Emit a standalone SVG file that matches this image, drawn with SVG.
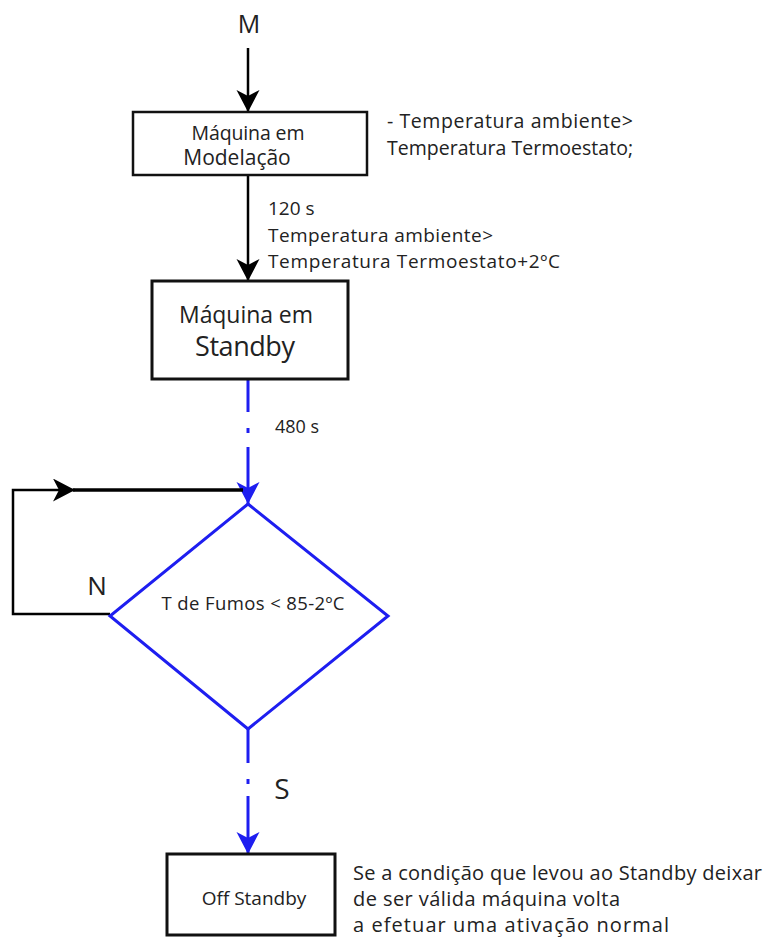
<svg xmlns="http://www.w3.org/2000/svg" width="765" height="939" viewBox="0 0 765 939">
<style>
.t{font-family:"Open Sans","Noto Sans","Liberation Sans",sans-serif;fill:#222;}
.box{fill:#fff;stroke:#111;}
.blk{stroke:#000;fill:none;}
.blu{stroke:#1e1ef0;fill:none;stroke-width:3;}
</style>
<defs>
<marker id="ab" markerUnits="userSpaceOnUse" markerWidth="24" markerHeight="24" refX="22" refY="11.5" orient="auto">
<path d="M0,0 L22,11.5 L0,23 L6,11.5 z" fill="#000"/>
</marker>
<marker id="au" markerUnits="userSpaceOnUse" markerWidth="24" markerHeight="24" refX="22" refY="11.5" orient="auto">
<path d="M0,0 L22,11.5 L0,23 L6,11.5 z" fill="#1e1ef0"/>
</marker>
</defs>
<rect width="765" height="939" fill="#fff"/>

<g id="connectors">
<line class="blk" x1="248" y1="48" x2="248" y2="112" stroke-width="2.5" marker-end="url(#ab)"/>
<line class="blk" x1="248" y1="175" x2="248" y2="281" stroke-width="2.5" marker-end="url(#ab)"/>
<line class="blu" x1="248" y1="379" x2="248" y2="412"/>
<line class="blu" x1="248" y1="428" x2="248" y2="433"/>
<line class="blu" x1="248" y1="447" x2="248" y2="504" marker-end="url(#au)"/>
<path class="blk" d="M110,614 H13 V490 H75" stroke-width="2.5" marker-end="url(#ab)"/>
<line class="blk" x1="73" y1="490" x2="243" y2="490" stroke-width="3.5"/>
<line class="blu" x1="248" y1="729" x2="248" y2="763"/>
<line class="blu" x1="248" y1="779" x2="248" y2="784"/>
<line class="blu" x1="248" y1="796" x2="248" y2="854" marker-end="url(#au)"/>
<text class="t" x="275" y="433" font-size="18">480 s</text>
<text class="t" x="97" y="595" font-size="26" text-anchor="middle">N</text>
<text class="t" x="282" y="799" font-size="28" text-anchor="middle">S</text>
<text class="t" x="268" y="215" font-size="19">120 s</text>
<text class="t" x="268" y="242" font-size="19" textLength="225">Temperatura ambiente&gt;</text>
<text class="t" x="268" y="268" font-size="19" textLength="292">Temperatura Termoestato+2ºC</text>
</g>

<g id="start">
<text class="t" x="249" y="33" font-size="25" text-anchor="middle">M</text>
</g>

<g id="modelacao">
<rect class="box" x="133" y="112" width="234" height="63" stroke-width="2.5"/>
<text class="t" x="248" y="140" font-size="19.5" text-anchor="middle" textLength="113">Máquina em</text>
<text class="t" x="237" y="165" font-size="21" text-anchor="middle">Modelação</text>
</g>

<g id="note1">
<text class="t" x="387" y="128" font-size="19.5" textLength="246">- Temperatura ambiente&gt;</text>
<text class="t" x="387" y="155" font-size="19.5" textLength="246">Temperatura Termoestato;</text>
</g>

<g id="standby">
<rect class="box" x="152" y="281" width="196" height="98" stroke-width="3"/>
<text class="t" x="246" y="323" font-size="23" text-anchor="middle" textLength="134">Máquina em</text>
<text class="t" x="245" y="356" font-size="27" text-anchor="middle" textLength="100">Standby</text>
</g>

<g id="decision">
<polygon points="248,504 388,616 248,729 110,616" fill="#fff" stroke="#1e1ef0" stroke-width="3"/>
<text class="t" x="253" y="610" font-size="18.5" text-anchor="middle" textLength="183">T de Fumos &lt; 85-2ºC</text>
</g>

<g id="offstandby">
<rect class="box" x="167" y="854" width="168" height="81" stroke-width="3"/>
<text class="t" x="254" y="905" font-size="19" text-anchor="middle">Off Standby</text>
</g>

<g id="note2">
<text class="t" x="353" y="880" font-size="20" textLength="409">Se a condição que levou ao Standby deixar</text>
<text class="t" x="353" y="906" font-size="20" textLength="267">de ser válida máquina volta</text>
<text class="t" x="353" y="932" font-size="20" textLength="316">a efetuar uma ativação normal</text>
</g>
</svg>
